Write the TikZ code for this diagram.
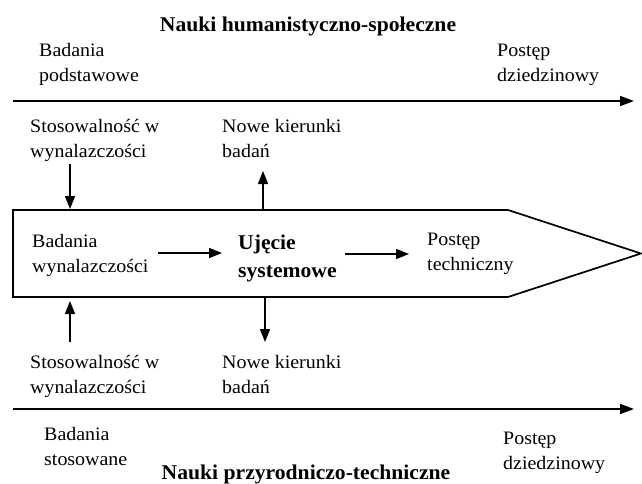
\documentclass[tikz,border=0pt]{standalone}
\usepackage{fontspec}
\setmainfont{Liberation Serif}[FakeStretch=1.05, BoldFeatures={FakeStretch=1.03}]
\usetikzlibrary{arrows.meta}
% two left-aligned lines whose baseline is that of the first line
\newcommand\twoln[2]{\begin{tabular}[t]{@{}l@{}}#1\\#2\end{tabular}}
\begin{document}
\begin{tikzpicture}[x=1pt,y=-1pt,
  txt/.style={anchor=base west, inner sep=0pt, font=\fontsize{19}{25}\selectfont},
  btxt/.style={anchor=base west, inner sep=0pt, font=\fontsize{21}{28}\selectfont\bfseries},
  heading/.style={anchor=base, inner sep=0pt, font=\fontsize{21}{28}\selectfont\bfseries},
  axis/.style={line width=1.7pt, -{Triangle[length=14pt,width=10pt]}},
  flow/.style={line width=1.7pt, -{Triangle[length=13pt,width=10pt]}},
  outline/.style={line width=1.7pt, line join=miter}]
\useasboundingbox (0,0) rectangle (642,484);

% headings
\node[heading] (hum) at (308,32) {Nauki humanistyczno-społeczne};
\node[heading] (prz) at (306,479) {Nauki przyrodniczo-techniczne};

% upper axis
\node[txt] (bpod) at (39,57) {\twoln{Badania}{podstawowe}};
\node[txt] (pdz1) at (497,57) {\twoln{Postęp}{dziedzinowy}};
\coordinate (ua0) at (13,101);
\coordinate (ua1) at (634,101);
\draw[axis] (ua0) -- (ua1);

\node[txt] (sw1) at (30,132) {\twoln{Stosowalność w}{wynalazczości}};
\node[txt] (nk1) at (222,132) {\twoln{Nowe kierunki}{badań}};

% central pointed box
\coordinate (b1) at (13,210);
\coordinate (b2) at (508,210);
\coordinate (b3) at (641,253.5);
\coordinate (b4) at (508,297);
\coordinate (b5) at (13,297);
\draw[outline] (b1) -- (b2) -- (b3) -- (b4) -- (b5) -- cycle;

\node[txt] (bw) at (32,247) {\twoln{Badania}{wynalazczości}};
\node[btxt] (us) at (238,249) {\twoln{Ujęcie}{systemowe}};
\node[txt] (pt) at (427,245) {\twoln{Postęp}{techniczny}};

\coordinate (f1a) at (158,253);
\coordinate (f1b) at (222,253);
\coordinate (f2a) at (345,254);
\coordinate (f2b) at (409,254);
\draw[flow] (f1a) -- (f1b);
\draw[flow] (f2a) -- (f2b);

% vertical links between the axes and the box
\coordinate (v1a) at (70,164);
\coordinate (v1b) at (70,209);
\coordinate (v2a) at (263,210);
\coordinate (v2b) at (263,171);
\coordinate (v3a) at (70,342);
\coordinate (v3b) at (70,301);
\coordinate (v4a) at (265,298);
\coordinate (v4b) at (265,342);
\draw[flow] (v1a) -- (v1b);
\draw[flow] (v2a) -- (v2b);
\draw[flow] (v3a) -- (v3b);
\draw[flow] (v4a) -- (v4b);

% lower axis
\node[txt] (sw2) at (30,368) {\twoln{Stosowalność w}{wynalazczości}};
\node[txt] (nk2) at (222,368) {\twoln{Nowe kierunki}{badań}};
\coordinate (la0) at (13,409);
\coordinate (la1) at (634,409);
\draw[axis] (la0) -- (la1);

\node[txt] (bst) at (44,440) {\twoln{Badania}{stosowane}};
\node[txt] (pdz2) at (503,444) {\twoln{Postęp}{dziedzinowy}};
\end{tikzpicture}
\end{document}
